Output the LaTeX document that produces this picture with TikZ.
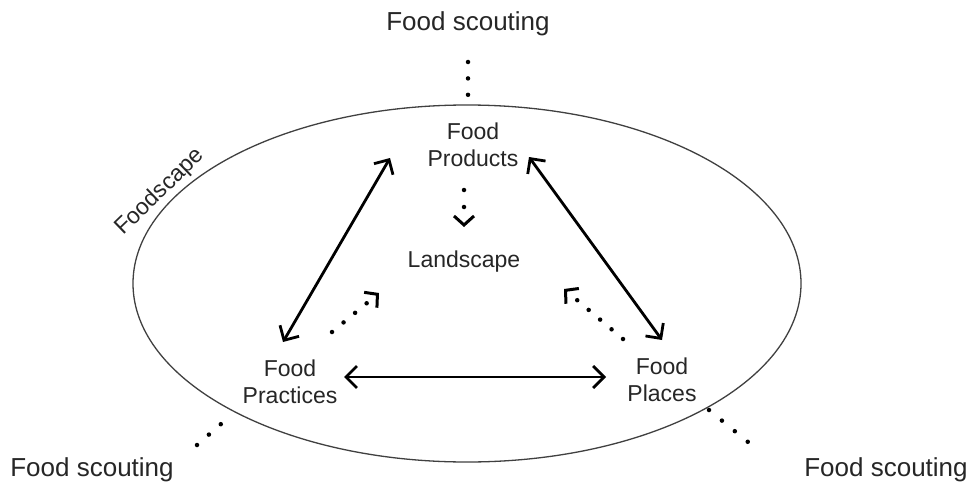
\documentclass[tikz,border=0pt]{standalone}
\usepackage{fontspec}
\setmainfont{Liberation Sans}
\usetikzlibrary{arrows.meta}
\begin{document}
\begin{tikzpicture}[x=1pt,y=-1pt,
  lbl/.style={font=\fontsize{23}{27}\selectfont, align=center, inner sep=0pt, text=black!85},
  scout/.style={lbl, font=\fontsize{26}{30}\selectfont},
  solidarr/.style={line width=2.8pt, {Straight Barb[length=11pt,width=22pt,line width=2.8pt]}-{Straight Barb[length=11pt,width=22pt,line width=2.8pt]}},
  dotline/.style={line width=4.5pt, line cap=round, dash pattern=on 0pt off 15pt},
  dotarr/.style={dotline, -{Straight Barb[length=9pt,width=20pt,line width=3pt,line cap=butt]}}]
\useasboundingbox (0,0) rectangle (968,487);
\fill[white] (0,0) rectangle (968,487);
% ellipse
\draw[line width=1.3pt, gray!50!black] (467,283.5) ellipse [x radius=334, y radius=178.5];
\node[lbl, rotate=44] (fs) at (160,192) {Foodscape};
% labels
\node[lbl] (prod) at (473,145) {Food\\Products};
\node[lbl] (land) at (464,262) {Landscape};
\node[lbl] (prac) at (290,382) {Food\\Practices};
\node[lbl] (plac) at (662,380) {Food\\Places};
\node[scout] (st) at (468,24) {Food scouting};
\node[scout] (sl) at (92,470) {Food scouting};
\node[scout] (sr) at (886,470) {Food scouting};
% coordinates
\coordinate (a1) at (283,342);
\coordinate (a2) at (390,158);
\coordinate (b1) at (529,157);
\coordinate (b2) at (662,340);
\coordinate (c1) at (344,377);
\coordinate (c2) at (606,377);
\draw[solidarr] (a1) -- (a2);
\draw[solidarr] (b1) -- (b2);
\draw[solidarr] (c1) -- (c2);
% dotted arrows
\coordinate (d1) at (464,190);
\coordinate (d2) at (464,227);
\draw[dotarr, dash pattern=on 0pt off 17pt] (d1) -- (d2);
\coordinate (e1) at (332,332);
\coordinate (e2) at (379,293);
\draw[dotarr] (e1) -- (e2);
\coordinate (f1) at (623,339);
\coordinate (f2) at (564,289);
\draw[dotarr] (f1) -- (f2);
% scouting dots
\coordinate (t1) at (468,62);
\coordinate (t2) at (468,95);
\draw[dotline, dash pattern=on 0pt off 16.4pt] (t1) -- (t2);
\coordinate (l1) at (197,445);
\coordinate (l2) at (221,424);
\draw[dotline, dash pattern=on 0pt off 15.8pt] (l1) -- (l2);
\coordinate (r1) at (709,410);
\coordinate (r2) at (748,442);
\draw[dotline, dash pattern=on 0pt off 16.7pt] (r1) -- (r2);
\end{tikzpicture}
\end{document}
